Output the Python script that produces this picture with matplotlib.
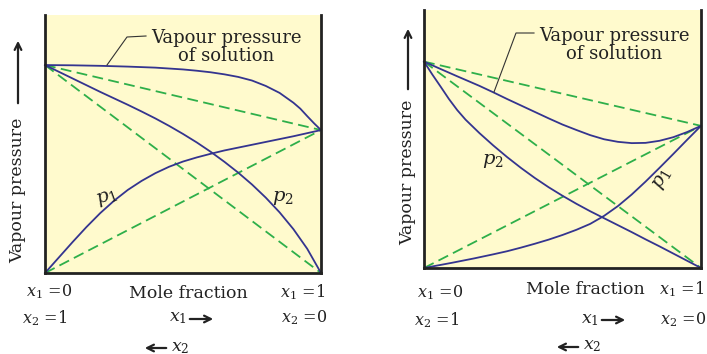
import matplotlib
matplotlib.use("Agg")
import matplotlib.pyplot as plt
from matplotlib.patches import FancyArrowPatch

plt.rcParams['font.family'] = ['DejaVu Serif']
plt.rcParams['mathtext.fontset'] = 'dejavuserif'

# ---- positive deviation (left panel) ----
x_p1_pos = [0, 0.05, 0.1, 0.15, 0.2, 0.25, 0.3, 0.35, 0.4, 0.45, 0.5,
            0.55, 0.6, 0.65, 0.7, 0.75, 0.8, 0.85, 0.9, 0.95, 1.0]
p1_pos = [0, 0.06, 0.12, 0.178, 0.232, 0.28, 0.322, 0.357, 0.387, 0.412, 0.432,
          0.448, 0.462, 0.475, 0.486, 0.497, 0.508, 0.519, 0.53, 0.542, 0.554]
x_p2_pos = x_p1_pos
p2_pos = [0.806, 0.78, 0.754, 0.728, 0.702, 0.677, 0.652, 0.626, 0.599, 0.57, 0.539,
          0.506, 0.47, 0.431, 0.389, 0.343, 0.292, 0.235, 0.17, 0.094, 0]
x_tot_pos = [0, 0.1, 0.2, 0.3, 0.4, 0.5, 0.55, 0.6, 0.65, 0.7, 0.75, 0.8,
             0.85, 0.9, 0.925, 0.95, 0.975, 1.0]
tot_pos = [0.806, 0.805, 0.803, 0.80, 0.796, 0.789, 0.784, 0.778, 0.77, 0.76, 0.746, 0.725,
           0.698, 0.66, 0.637, 0.608, 0.58, 0.554]

# ---- negative deviation (right panel) ----
x_p2_neg = [0, 0.03, 0.06, 0.09, 0.12, 0.15, 0.2, 0.25, 0.3, 0.35, 0.4, 0.45, 0.5,
            0.55, 0.6, 0.65, 0.7, 0.75, 0.8, 0.85, 0.9, 0.95, 1.0]
p2_neg = [0.80, 0.75, 0.703, 0.655, 0.612, 0.575, 0.523, 0.475, 0.43, 0.388, 0.349, 0.313, 0.28,
          0.249, 0.22, 0.193, 0.166, 0.139, 0.111, 0.084, 0.056, 0.028, 0]
x_p1_neg = [0, 0.1, 0.18, 0.25, 0.3, 0.35, 0.4, 0.45, 0.5, 0.55, 0.6, 0.65,
            0.7, 0.75, 0.8, 0.85, 0.9, 0.95, 1.0]
p1_neg = [0, 0.02, 0.037, 0.053, 0.065, 0.079, 0.094, 0.11, 0.128, 0.148, 0.171, 0.202,
          0.24, 0.285, 0.335, 0.388, 0.442, 0.497, 0.551]
x_tot_neg = [0, 0.05, 0.12, 0.2, 0.25, 0.3, 0.35, 0.4, 0.45, 0.5, 0.55, 0.6,
             0.65, 0.7, 0.75, 0.8, 0.85, 0.9, 0.95, 1.0]
tot_neg = [0.80, 0.776, 0.743, 0.706, 0.681, 0.655, 0.63, 0.605, 0.58, 0.556, 0.535, 0.515,
           0.499, 0.489, 0.484, 0.485, 0.493, 0.507, 0.527, 0.551]

# pure component vapour pressures (ideal Raoult lines)
ideal_x = [0, 1]
p1_0_pos, p2_0_pos = 0.554, 0.806
p1_0_neg, p2_0_neg = 0.551, 0.80

W, H = 707, 354
fig = plt.figure(figsize=(W / 100, H / 100), dpi=100)

yellow = '#fffacd'
blue = '#34348f'
green = '#2eaf4a'
ink = '#222222'


def px(a, b):
    return a / W, 1 - b / H


def panel(left, top, right, bottom):
    ax = fig.add_axes([left / W, 1 - bottom / H, (right - left) / W, (bottom - top) / H])
    ax.set_facecolor(yellow)
    ax.set_xlim(0, 1)
    ax.set_ylim(0, 1)
    ax.set_xticks([])
    ax.set_yticks([])
    ax.spines['top'].set_visible(False)
    for s in ['left', 'right', 'bottom']:
        ax.spines[s].set_linewidth(2)
        ax.spines[s].set_color(ink)
    return ax


def ideal(ax, p1_0, p2_0):
    kw = dict(color=green, lw=1.3, ls=(0, (6, 3)), clip_on=False)
    ax.plot(ideal_x, [0, p1_0], **kw)
    ax.plot(ideal_x, [p2_0, 0], **kw)
    ax.plot(ideal_x, [p2_0, p1_0], **kw)


def arrow(x0, y0, x1, y1, lw=1.6, ms=12):
    fig.add_artist(FancyArrowPatch(px(x0, y0), px(x1, y1), transform=fig.transFigure,
                                   arrowstyle='->', mutation_scale=ms, lw=lw, color=ink))


axL = panel(45, 15, 321, 273)
ideal(axL, p1_0_pos, p2_0_pos)
for xs, ys in [(x_p1_pos, p1_pos), (x_p2_pos, p2_pos), (x_tot_pos, tot_pos)]:
    axL.plot(xs, ys, color=blue, lw=1.3, clip_on=False, solid_joinstyle='round')
axL.text(0.225, 0.29, r'$p_1$', fontsize=14, rotation=20, ha='center', va='center', color=ink)
axL.text(0.862, 0.29, r'$p_2$', fontsize=14, ha='center', va='center', color=ink)

axR = panel(424, 10, 701, 268)
ideal(axR, p1_0_neg, p2_0_neg)
for xs, ys in [(x_p2_neg, p2_neg), (x_p1_neg, p1_neg), (x_tot_neg, tot_neg)]:
    axR.plot(xs, ys, color=blue, lw=1.3, clip_on=False, solid_joinstyle='round')
axR.text(0.25, 0.415, r'$p_2$', fontsize=14, ha='center', va='center', color=ink)
axR.text(0.86, 0.345, r'$p_1$', fontsize=14, rotation=60, ha='center', va='center', color=ink)

# leader lines + annotation text
fig.add_artist(plt.Line2D([107 / W, 127 / W, 146 / W], [1 - 65 / H, 1 - 37 / H, 1 - 36 / H],
                          color='#333333', lw=0.8))
fig.add_artist(plt.Line2D([494 / W, 516 / W, 534 / W], [1 - 92 / H, 1 - 33 / H, 1 - 33 / H],
                          color='#333333', lw=0.8))
fig.text(*px(226, 47), 'Vapour pressure\nof solution', fontsize=13, ha='center', va='center',
         linespacing=1.05, color=ink)
fig.text(*px(614, 45), 'Vapour pressure\nof solution', fontsize=13, ha='center', va='center',
         linespacing=1.05, color=ink)

# y labels with arrows
for xl, ytxt, ya0, ya1 in [(18, 190, 106, 38), (408, 172, 92, 26)]:
    fig.text(*px(xl, ytxt), 'Vapour pressure', rotation=90, fontsize=12.5,
             ha='center', va='center', color=ink)
    arrow(xl, ya0, xl, ya1)

# bottom labels
fig.text(*px(188, 293), 'Mole fraction', fontsize=12.5, ha='center', va='center', color=ink)
fig.text(*px(585, 290), 'Mole fraction', fontsize=12.5, ha='center', va='center', color=ink)
labels = [
    (49, 292, r'$x_1$ =0'), (303, 292, r'$x_1$ =1'),
    (45, 318, r'$x_2$ =1'), (304, 318, r'$x_2$ =0'),
    (440, 293, r'$x_1$ =0'), (682, 289, r'$x_1$ =1'),
    (437, 320, r'$x_2$ =1'), (683, 320, r'$x_2$ =0'),
]
for lx, ly, s in labels:
    fig.text(*px(lx, ly), s, fontsize=11.5, ha='center', va='center', color=ink)

# x1 -> and <- x2 direction labels
for xa, ya, xb, yb in [(178, 318, 160, 347), (590, 319, 572, 346)]:
    fig.text(*px(xa, ya), r'$x_1$', fontsize=12.5, ha='center', va='center', color=ink)
    arrow(xa + 9, ya + 1, xa + 38, ya + 1)
    fig.text(*px(xb + 20, yb), r'$x_2$', fontsize=12.5, ha='center', va='center', color=ink)
    arrow(xb + 9, yb + 1, xb - 18, yb + 1)

fig.savefig('out.png', dpi=100, facecolor='white')
